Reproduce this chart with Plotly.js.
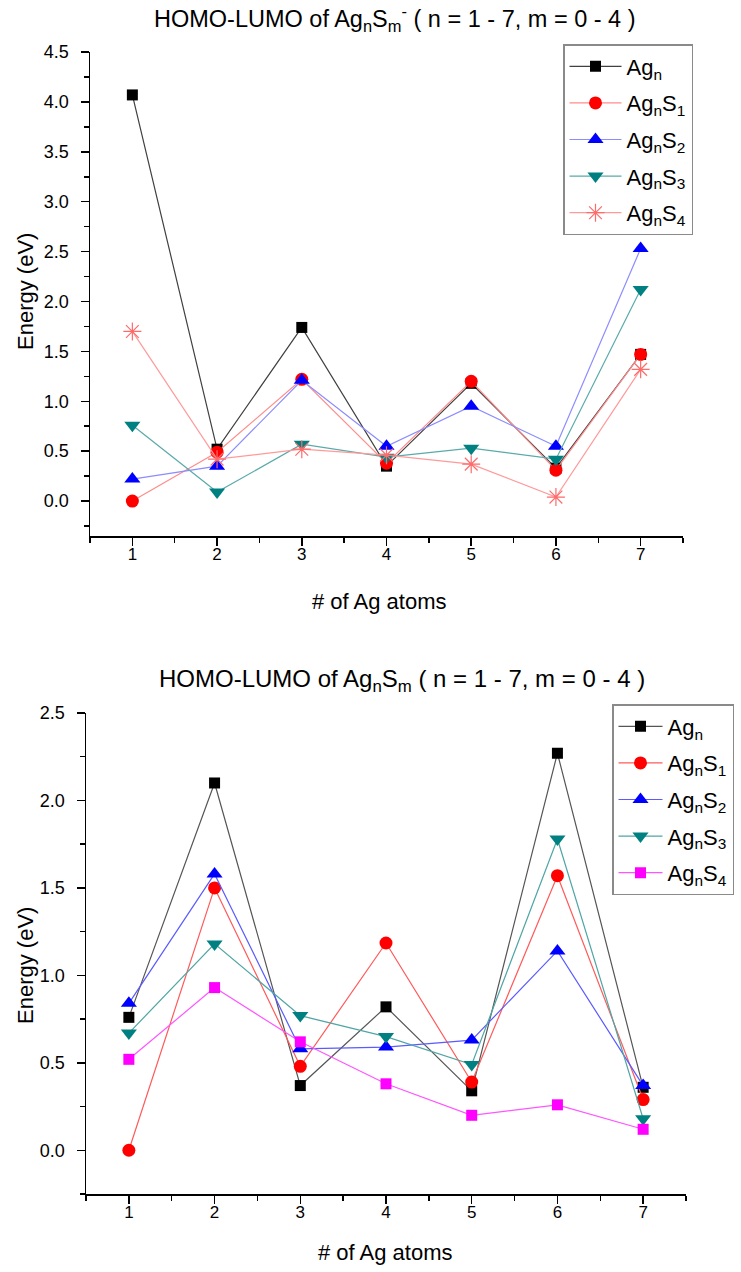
<!DOCTYPE html>
<html>
<head>
<meta charset="utf-8">
<script src="https://cdn.plot.ly/plotly-3.0.1.min.js"></script>
<style>html,body{margin:0;padding:0;background:#fff;}#chart{width:741px;height:1272px;}</style>
</head>
<body>
<div id="chart"></div>
<script>
// ---- data ----
const atoms = [1, 2, 3, 4, 5, 6, 7];
const seriesNames = ['Ag<sub>n</sub>', 'Ag<sub>n</sub>S<sub>1</sub>', 'Ag<sub>n</sub>S<sub>2</sub>', 'Ag<sub>n</sub>S<sub>3</sub>', 'Ag<sub>n</sub>S<sub>4</sub>'];

// anion (top panel)
const anionAgn   = [4.07, 0.52, 1.74, 0.35, 1.18, 0.33, 1.47];
const anionAgnS1 = [0.00, 0.49, 1.22, 0.38, 1.20, 0.31, 1.47];
const anionAgnS2 = [0.22, 0.35, 1.21, 0.55, 0.95, 0.55, 2.53];
const anionAgnS3 = [0.76, 0.09, 0.57, 0.44, 0.53, 0.42, 2.12];
const anionAgnS4 = [1.70, 0.42, 0.52, 0.46, 0.37, 0.04, 1.32];

// neutral (bottom panel)
const neutralAgn   = [0.76, 2.10, 0.37, 0.82, 0.34, 2.27, 0.36];
const neutralAgnS1 = [0.00, 1.50, 0.48, 1.185, 0.39, 1.57, 0.29];
const neutralAgnS2 = [0.84, 1.58, 0.58, 0.59, 0.63, 1.14, 0.37];
const neutralAgnS3 = [0.67, 1.18, 0.77, 0.65, 0.49, 1.78, 0.18];
const neutralAgnS4 = [0.52, 0.93, 0.62, 0.38, 0.20, 0.26, 0.12];

const titleTop = 'HOMO-LUMO of Ag<sub>n</sub>S<sub>m</sub><sup>-</sup> ( n = 1 - 7, m = 0 - 4 )';
const titleBottom = 'HOMO-LUMO of Ag<sub>n</sub>S<sub>m</sub> ( n = 1 - 7, m = 0 - 4 )';
const xTitle = '# of Ag atoms';
const yTitle = 'Energy (eV)';

// ---- styles ----
const FONT = 'Liberation Sans, Arial, sans-serif';
const topStyles = [
  {sym: 'square', size: 11, mc: '#000000', lc: '#404040', ml: null},
  {sym: 'circle', size: 13, mc: '#ff0000', lc: '#ff8c8c', ml: null},
  {sym: 'triangle-up', size: 14, mc: '#0000ff', lc: '#8c8cff', ml: null},
  {sym: 'triangle-down', size: 14, mc: '#008080', lc: '#5aaaaa', ml: null},
  {sym: 'asterisk-open', size: 15, mc: '#ff6b6b', lc: '#ff9a9a', ml: '#ff6b6b'}
];
const botStyles = [
  {sym: 'square', size: 11, mc: '#000000', lc: '#555555', ml: null},
  {sym: 'circle', size: 13, mc: '#ff0000', lc: '#ff5a5a', ml: null},
  {sym: 'triangle-up', size: 14, mc: '#0000ff', lc: '#5a5aff', ml: null},
  {sym: 'triangle-down', size: 14, mc: '#008080', lc: '#50a5a5', ml: null},
  {sym: 'square', size: 11, mc: '#ff00ff', lc: '#ff55ff', ml: null}
];

function mk(y, i, st, xa, ya, leg) {
  const marker = {symbol: st.sym, size: st.size, color: st.mc};
  if (st.ml) marker.line = {color: st.ml, width: 1.2};
  else marker.line = {width: 0};
  return {
    x: atoms, y: y, type: 'scatter', mode: 'lines+markers',
    name: seriesNames[i], xaxis: xa, yaxis: ya, legend: leg,
    legendgroup: leg + '_' + i,
    line: {color: st.lc, width: 1.2}, marker: marker
  };
}

const topSeries = [anionAgn, anionAgnS1, anionAgnS2, anionAgnS3, anionAgnS4];
const botSeries = [neutralAgn, neutralAgnS1, neutralAgnS2, neutralAgnS3, neutralAgnS4];
const data = [];
topSeries.forEach((s, i) => data.push(mk(s, i, topStyles[i], 'x', 'y', 'legend')));
botSeries.forEach((s, i) => data.push(mk(s, i, botStyles[i], 'x2', 'y2', 'legend2')));

const W = 741, H = 1272;
const px = v => v / W;
const py = v => 1 - v / H;

function xax(dom, standoff) {
  return {
    domain: dom, range: [0.5, 7.5], tickmode: 'linear', tick0: 1, dtick: 1,
    ticks: 'outside', ticklen: 8, tickwidth: 1.5, tickcolor: '#000',
    showline: true, linecolor: '#000', linewidth: 1.5, showgrid: false, zeroline: false,
    tickfont: {family: FONT, size: 17, color: '#000'}, ticklabelstandoff: standoff,
    minor: {tickmode: 'linear', tick0: 0.5, dtick: 1, ticks: 'outside', ticklen: 5, tickwidth: 1.5, tickcolor: '#000', showgrid: false}
  };
}
function yax(dom, rng) {
  return {
    domain: dom, range: rng, tickmode: 'linear', tick0: 0, dtick: 0.5, tickformat: '.1f',
    ticks: 'outside', ticklen: 8, tickwidth: 1.5, tickcolor: '#000',
    showline: true, linecolor: '#000', linewidth: 1.5, showgrid: false, zeroline: false,
    tickfont: {family: FONT, size: 18, color: '#000'}, ticklabelstandoff: 8,
    minor: {tickmode: 'linear', tick0: 0.25, dtick: 0.5, ticks: 'outside', ticklen: 5, tickwidth: 1.5, tickcolor: '#000', showgrid: false}
  };
}

const legendBase = {
  bgcolor: '#ffffff', bordercolor: '#8a8a8a', borderwidth: 1.5,
  font: {family: FONT, size: 22, color: '#000'},
  xanchor: 'left', yanchor: 'top', tracegroupgap: 5, itemwidth: 52
};

const ann = (text, x, y, size, rot) => ({
  text: text, x: x, y: y, xref: 'paper', yref: 'paper', showarrow: false,
  xanchor: 'center', yanchor: 'middle', textangle: rot || 0,
  font: {family: FONT, size: size, color: '#000'}
});

const layout = {
  width: W, height: H,
  margin: {l: 0, r: 0, t: 0, b: 0, autoexpand: false},
  paper_bgcolor: '#fff', plot_bgcolor: '#fff',
  showlegend: true,
  xaxis: Object.assign(xax([px(90), px(683)], -6), {anchor: 'y'}),
  yaxis: Object.assign(yax([py(536), py(52)], [-0.35, 4.5001]), {anchor: 'x'}),
  xaxis2: Object.assign(xax([px(86), px(686)], -6), {anchor: 'y2'}),
  yaxis2: Object.assign(yax([py(1194), py(713)], [-0.25, 2.5001]), {anchor: 'x2'}),
  legend: Object.assign({}, legendBase, {x: px(563), y: py(44)}),
  legend2: Object.assign({}, legendBase, {x: px(612), y: py(704), itemwidth: 44}),
  annotations: [
    ann(titleTop, px(395), py(18), 23.5),
    ann(titleBottom, px(402), py(680), 24),
    ann(xTitle, px(380), py(601), 22),
    ann(xTitle, px(385), py(1252), 22),
    ann(yTitle, px(25), py(292), 22, -90),
    ann(yTitle, px(25), py(966), 22, -90)
  ]
};

Plotly.newPlot('chart', data, layout, {displayModeBar: false, staticPlot: true});
</script>
</body>
</html>
